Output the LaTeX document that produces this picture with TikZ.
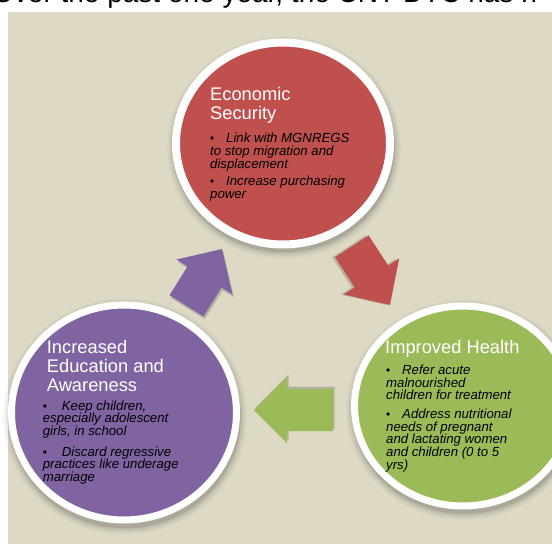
\documentclass[tikz,border=0pt]{standalone}
\usepackage{fontspec}
\setmainfont{Liberation Sans}
\usetikzlibrary{shapes.geometric}

\definecolor{bgtan}{HTML}{DDD9C4}
\definecolor{econred}{HTML}{C0504D}
\definecolor{healthgreen}{HTML}{9BBB59}
\definecolor{eduviolet}{HTML}{8064A2}

% heading lines of a circle
\newcommand\circtitle[2]{\parbox[t]{200pt}{\raggedright\fontsize{18.3}{#1}\selectfont #2}}
% one bullet point: #1 gap after the bullet, #2 its lines
\newcommand\bulletitem[2]{\parbox[t]{200pt}{\raggedright
  \fontsize{13.2}{12.8}\selectfont\lineskiplimit=-10pt\itshape
  \hangindent=12pt\hangafter=1\noindent
  \makebox[12pt][l]{\upshape\fontsize{12}{12}\selectfont\textbullet}\hspace{#1}#2}}

% block arrow: #1 name, #2 colour, #3 tip, #4 direction, #5 length,
% #6 shaft width, #7 head width, #8 head length
\newcommand\cyclearrow[8]{%
  \begin{scope}[shift={#3}, rotate=#4]
    \fill[black, opacity=0.18, shift={(-1.5,2.5)}]
      (0,0) -- (-#8,#7/2) -- (-#8,#6/2) -- (-#5,#6/2) -- (-#5,-#6/2)
      -- (-#8,-#6/2) -- (-#8,-#7/2) -- cycle;
    \fill[#2] (0,0) coordinate (#1) -- (-#8,#7/2) -- (-#8,#6/2) -- (-#5,#6/2)
      -- (-#5,-#6/2) -- (-#8,-#6/2) -- (-#8,-#7/2) -- cycle;
  \end{scope}}

\tikzset{
  ring/.style={ellipse, draw=white, inner sep=0pt, line width=#1},
  ring/.default=7.5pt,
  headtext/.style={anchor=base west, inner sep=0pt, text=white},
  pointtext/.style={anchor=base west, inner sep=0pt, text=black},
}

% soft shadow under a circle
\newcommand\softshadow[4]{%
  \foreach \k/\o in {0/0.10,2/0.06,4/0.04,6/0.03}
    \fill[black, opacity=\o] (#1+1,#2+4) ellipse [x radius=#3+\k, y radius=#4+\k];}

\begin{document}
\begin{tikzpicture}[x=1pt,y=-1pt]
\useasboundingbox (0,0) rectangle (552,544);
\clip (0,0) rectangle (552,544);

% page and slide background
\fill[white] (0,0) rectangle (552,544);
\fill[bgtan] (8,12) rectangle (552,544);
\node[anchor=base west, inner sep=0pt, font=\fontsize{28}{28}\selectfont] (heading)
  at (-8,2.5) {Over the past one year, the CNT DTC has h};

% shadows
\softshadow{283}{143.5}{111}{105}
\softshadow{124}{412.5}{116}{112}
\softshadow{463}{406}{112}{104}

% the three circles
\node[ring=8pt, fill=econred, minimum width=214pt, minimum height=202pt] (econ) at (283,143.5) {};
\node[ring=7pt, fill=eduviolet, minimum width=225pt, minimum height=215pt] (edu) at (124,412.5) {};
\node[ring=7pt, fill=healthgreen, minimum width=217pt, minimum height=200pt] (health) at (463,406) {};

% arrows of the cycle
\cyclearrow{eduToEcon}{eduviolet}{(222,249)}{58}{67}{40}{66}{33}
\cyclearrow{econToHealth}{econred}{(390,305)}{-57}{70}{40}{66}{34}
\cyclearrow{healthToEdu}{healthgreen}{(254,410)}{180}{79}{42}{66}{33}

% Economic Security
\node[headtext] (econTitle) at (210,100.7) {\circtitle{18.6}{Economic\\Security}};
\node[pointtext] (econA) at (210,142.7) {\bulletitem{4pt}{Link with MGNREGS\\to stop migration and\\displacement}};
\node[pointtext] (econB) at (210,185.7) {\bulletitem{4pt}{Increase purchasing\\power}};

% Improved Health
\node[headtext] (healthTitle) at (385,353.3) {\circtitle{19}{Improved Health}};
\node[pointtext] (healthA) at (386,374.3) {\bulletitem{4pt}{Refer acute\\malnourished\\children for treatment}};
\node[pointtext] (healthB) at (386,418.3) {\bulletitem{4pt}{Address nutritional\\needs of pregnant\\and lactating women\\and children (0 to 5\\yrs)}};

% Increased Education and Awareness
\node[headtext] (eduTitle) at (46.7,353.3) {\circtitle{19.2}{Increased\\Education and\\Awareness}};
\node[pointtext] (eduA) at (42.7,410) {\bulletitem{7pt}{Keep children,\\especially adolescent\\girls, in school}};
\node[pointtext] (eduB) at (42.7,456) {\bulletitem{7pt}{Discard regressive\\practices like underage\\marriage}};
\end{tikzpicture}
\end{document}
